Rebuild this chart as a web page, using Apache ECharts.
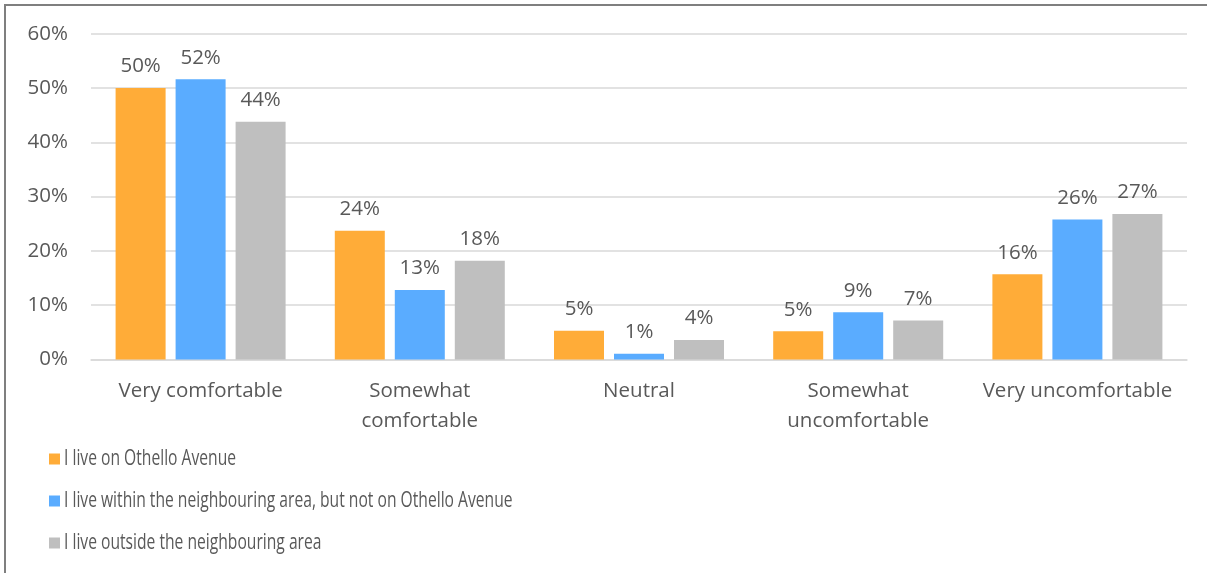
<!DOCTYPE html>
<html>
<head>
<meta charset="utf-8">
<script src="https://cdn.jsdelivr.net/npm/echarts@6/dist/echarts.min.js"></script>
<style>
  html, body { margin: 0; padding: 0; background: #fff; }
  #chart { width: 1207px; height: 573px; }
</style>
</head>
<body>
<div id="chart"></div>
<script>
// categories and series (percent)
const categories = ['Very comfortable', 'Somewhat comfortable', 'Neutral', 'Somewhat uncomfortable', 'Very uncomfortable']
const seriesNames = [
  'I live on Othello Avenue',
  'I live within the neighbouring area, but not on Othello Avenue',
  'I live outside the neighbouring area'
]
const onAvenue = [50.0, 23.7, 5.3, 5.2, 15.7]
const neighbouring = [51.6, 12.8, 1.05, 8.7, 25.8]
const outside = [43.8, 18.2, 3.6, 7.2, 26.8]
const yTicks = [0, 10, 20, 30, 40, 50, 60]

const colors = ['#FFAC38', '#5AACFF', '#BFBFBF']
const textColor = '#595959'
const fontFamily = '"Open Sans", "Noto Sans", sans-serif'

const chart = echarts.init(document.getElementById('chart'))

const makeSeries = (name, data) => ({
  name: name,
  type: 'bar',
  barWidth: 50,
  barGap: '20%',
  data: data,
  label: {
    show: true,
    position: 'top',
    distance: 11,
    color: textColor,
    fontSize: 20.5,
    fontFamily: fontFamily,
    formatter: p => Math.round(p.value) + '%'
  }
})

// legend drawn by hand: the original uses a narrow font
const legendItems = seriesNames.map((name, i) => ({
  type: 'group',
  x: 49,
  y: 459 + i * 42,
  silent: true,
  children: [
    {
      type: 'rect',
      shape: { x: 0, y: -5.5, width: 11, height: 11 },
      style: { fill: colors[i] }
    },
    {
      type: 'text',
      x: 15,
      y: 0,
      scaleX: 0.745,
      style: {
        text: name,
        fill: textColor,
        font: '21px ' + fontFamily,
        verticalAlign: 'middle'
      }
    }
  ]
}))

const option = {
  color: colors,
  animation: false,
  graphic: [{
    type: 'rect',
    shape: { x: 5, y: 5, width: 1400, height: 800 },
    style: { fill: 'none', stroke: '#7f7f7f', lineWidth: 2 },
    silent: true
  }].concat(legendItems),
  grid: {
    left: 91,
    right: 20,
    top: 33.7,
    bottom: 213.5
  },
  xAxis: {
    type: 'category',
    data: categories,
    axisLine: { lineStyle: { color: '#D9D9D9', width: 1.5 } },
    axisTick: { show: false },
    axisLabel: {
      color: textColor,
      fontSize: 20.5,
      fontFamily: fontFamily,
      margin: 17,
      lineHeight: 30,
      interval: 0,
      formatter: v => v.startsWith('Somewhat') ? v.replace(' ', '\n') : v
    }
  },
  yAxis: {
    type: 'value',
    min: yTicks[0],
    max: yTicks[yTicks.length - 1],
    interval: 10,
    axisLine: { show: false },
    axisTick: { show: false },
    splitLine: { lineStyle: { color: '#D9D9D9', width: 1.5 } },
    axisLabel: {
      color: textColor,
      fontSize: 20.5,
      fontFamily: fontFamily,
      margin: 23,
      formatter: v => v + '%'
    }
  },
  series: [
    makeSeries(seriesNames[0], onAvenue),
    makeSeries(seriesNames[1], neighbouring),
    makeSeries(seriesNames[2], outside)
  ]
}

chart.setOption(option)
</script>
</body>
</html>
